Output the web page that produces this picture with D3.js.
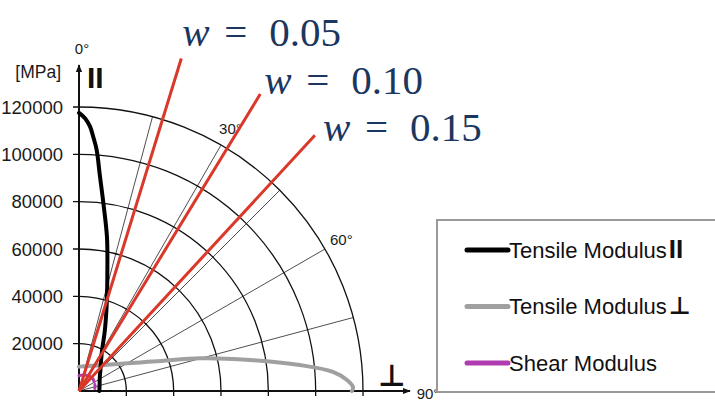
<!DOCTYPE html>
<html>
<head>
<meta charset="utf-8">
<script src="https://cdn.jsdelivr.net/npm/d3@7"></script>
<style>
  html, body { margin: 0; padding: 0; background: #fff; }
  svg { display: block; font-family: "Liberation Sans", Arial, sans-serif; }
</style>
</head>
<body>
<svg id="chart"></svg>
<script>
(() => {

  // modulus rings (MPa) and angle ticks (deg, 0 = fibre direction)
  const ringTicks = [20000, 40000, 60000, 80000, 100000, 120000];
  const spokeAngles = [15, 30, 45, 60, 75];
  const angleLabels = [0, 30, 60, 90];

  // Tensile modulus parallel (black)
  const parAngles = [0, 1.3, 2.4, 3.2, 4.2, 5.5, 7.4, 10.3, 13.2, 17.5, 23, 30.9, 45, 60, 75, 90];
  const parValues = [117500, 115200, 111800, 107600, 102100, 91700, 80000, 66100, 52500, 39000, 28000, 18700, 12800, 10100, 9000, 8600];

  // Tensile modulus perpendicular (grey)
  const perpAngles = [0, 20, 40, 55, 65, 70, 74.9, 79.7, 83.3, 85.7, 87.6, 89.2, 90];
  const perpValues = [10300, 11200, 14200, 19900, 28600, 37200, 53000, 73400, 94000, 107600, 113200, 115800, 115300];

  // Shear modulus (magenta), mostly hidden near the origin
  const shearAngles = [0, 15, 30, 45, 60, 75, 90];
  const shearValues = [6500, 7000, 7500, 7800, 7500, 7000, 6500];

  // red guide lines, one per fibre fraction
  const wLabels = ['0.05', '0.10', '0.15'];
  const wAngles = [17.1, 31.4, 42.7];
  const wReach = 147000;

  const legendNames = ['Tensile Modulus', 'Tensile Modulus', 'Shear Modulus'];
  const legendMarks = ['II', '\u22A5', ''];

  document.addEventListener("DOMContentLoaded", () => {
    drawChart();
  });

  function drawChart() {
    const svgWidth = 715;
    const svgHeight = 404;
    const origin = { x: 79, y: 391 };

    const svg = d3.select('#chart')
      .attr('width', svgWidth)
      .attr('height', svgHeight);

    const rScale = d3.scaleLinear()
      .domain([0, 120000])
      .range([0, 284]);

    const rad = (deg) => deg * Math.PI / 180;
    const px = (deg, v) => rScale(v) * Math.sin(rad(deg));
    const py = (deg, v) => -rScale(v) * Math.cos(rad(deg));

    const defs = svg.append('defs');
    defs.append('marker')
      .attr('id', 'arrow')
      .attr('viewBox', '0 0 10 10')
      .attr('refX', 9).attr('refY', 5)
      .attr('markerWidth', 8).attr('markerHeight', 8)
      .attr('markerUnits', 'userSpaceOnUse')
      .attr('orient', 'auto')
      .append('path')
      .attr('d', 'M0,1 L10,5 L0,9 Z')
      .attr('fill', '#111');

    const g = svg.append('g')
      .attr('transform', `translate(${origin.x}, ${origin.y})`);

    // spokes
    g.append('g').selectAll('line')
      .data(spokeAngles)
      .enter().append('line')
      .attr('x1', 0).attr('y1', 0)
      .attr('x2', d => px(d, 120000))
      .attr('y2', d => py(d, 120000))
      .attr('stroke', '#222')
      .attr('stroke-width', 0.8);

    // rings with small ticks on both axes
    g.append('g').selectAll('path')
      .data(ringTicks)
      .enter().append('path')
      .attr('d', d => {
        const p = d3.path();
        const r = rScale(d);
        p.moveTo(-6, -r);
        p.lineTo(0, -r);
        p.arc(0, 0, r, -Math.PI / 2, 0);
        p.lineTo(r, 5);
        return p.toString();
      })
      .attr('fill', 'none')
      .attr('stroke', '#111')
      .attr('stroke-width', 1.3);

    // tick labels
    g.append('g').selectAll('text')
      .data(ringTicks)
      .enter().append('text')
      .attr('x', -16)
      .attr('y', d => -rScale(d))
      .attr('dy', '0.36em')
      .attr('text-anchor', 'end')
      .attr('font-size', 18.5)
      .attr('fill', '#1a1a1a')
      .text(d => d);

    g.append('text')
      .attr('x', -18).attr('y', -313)
      .attr('text-anchor', 'end')
      .attr('font-size', 17.5)
      .attr('fill', '#1a1a1a')
      .text('[MPa]');

    // axes
    g.append('line')
      .attr('x1', 0).attr('y1', 0)
      .attr('x2', 0).attr('y2', -326)
      .attr('stroke', '#111').attr('stroke-width', 2)
      .attr('marker-end', 'url(#arrow)');
    g.append('line')
      .attr('x1', 0).attr('y1', 0)
      .attr('x2', 331).attr('y2', 0)
      .attr('stroke', '#111').attr('stroke-width', 2)
      .attr('marker-end', 'url(#arrow)');

    // angle labels
    const angPos = {
      0: [3, -337],
      30: [px(30, 128000), py(30, 128000) + 5],
      60: [px(60, 128000), py(60, 128000) + 5],
      90: [349, 8]
    };
    g.append('g').selectAll('text')
      .data(angleLabels)
      .enter().append('text')
      .attr('x', d => angPos[d][0])
      .attr('y', d => angPos[d][1])
      .attr('text-anchor', 'middle')
      .attr('font-size', 15)
      .attr('fill', '#1a1a1a')
      .text(d => d + '\u00B0');

    // direction symbols
    g.append('text')
      .attr('x', 8).attr('y', -303)
      .attr('font-size', 30).attr('font-weight', 'bold')
      .attr('fill', '#111')
      .text('II');
    g.append('text')
      .attr('x', 299).attr('y', -5)
      .attr('font-family', 'DejaVu Sans')
      .attr('font-size', 30).attr('font-weight', 'bold')
      .attr('fill', '#111')
      .text('\u22A5');

    const radial = d3.lineRadial()
      .angle(d => rad(d[0]))
      .radius(d => rScale(d[1]))
      .curve(d3.curveCatmullRom);

    const series = [
      { a: shearAngles, v: shearValues, color: '#b03cb0', width: 3, dash: '4,3' },
      { a: perpAngles, v: perpValues, color: '#a0a0a0', width: 4, dash: null },
      { a: parAngles, v: parValues, color: '#000', width: 4, dash: null }
    ];

    g.append('g').selectAll('path')
      .data(series)
      .enter().append('path')
      .attr('d', s => radial(s.a.map((a, i) => [a, s.v[i]])))
      .attr('fill', 'none')
      .attr('stroke', s => s.color)
      .attr('stroke-width', s => s.width)
      .attr('stroke-dasharray', s => s.dash)
      .attr('stroke-linecap', 'round');

    // red guide lines
    g.append('g').selectAll('line')
      .data(wAngles)
      .enter().append('line')
      .attr('x1', 0).attr('y1', 0)
      .attr('x2', d => px(d, wReach))
      .attr('y2', d => py(d, wReach))
      .attr('stroke', '#d9382a')
      .attr('stroke-width', 3);

    // label placement relative to each line's end
    const labelShift = [[1, -12], [4, 0], [8, 6]];
    const wText = svg.append('g').selectAll('text')
      .data(wLabels)
      .enter().append('text')
      .attr('font-family', '"Liberation Serif", "DejaVu Serif", serif')
      .attr('font-size', 41)
      .attr('fill', '#1b365f')
      .attr('transform', (d, i) => {
        const x = origin.x + px(wAngles[i], wReach) + labelShift[i][0];
        const y = origin.y + py(wAngles[i], wReach) + labelShift[i][1];
        return `translate(${x}, ${y})`;
      });
    wText.append('tspan')
      .attr('x', 0)
      .attr('font-style', 'italic')
      .text('w');
    wText.append('tspan')
      .attr('x', 42)
      .text('=');
    wText.append('tspan')
      .attr('x', 87)
      .text(d => d);

    // legend
    const legend = svg.append('g')
      .attr('transform', 'translate(437, 220)');
    legend.append('rect')
      .attr('x', 0).attr('y', 0)
      .attr('width', 300).attr('height', 172)
      .attr('fill', '#fff')
      .attr('stroke', '#999')
      .attr('stroke-width', 2);

    const legendColor = [series[2].color, series[1].color, series[0].color];
    const item = legend.selectAll('.item')
      .data(legendNames)
      .enter().append('g')
      .attr('class', 'item')
      .attr('transform', (d, i) => `translate(0, ${30 + i * 56.5})`);
    item.append('line')
      .attr('x1', 30).attr('x2', 71)
      .attr('stroke', (d, i) => legendColor[i])
      .attr('stroke-width', 5)
      .attr('stroke-linecap', 'round');
    const lt = item.append('text')
      .attr('x', 72)
      .attr('dy', '0.36em')
      .attr('font-size', 22)
      .attr('fill', '#111')
      .text(d => d);
    lt.append('tspan')
      .attr('dx', 2)
      .attr('font-weight', 'bold')
      .attr('font-family', (d, i) => i === 1 ? 'DejaVu Sans' : null)
      .attr('font-size', (d, i) => i === 1 ? 24 : 26)
      .text((d, i) => legendMarks[i]);
  }

})();
</script>
</body>
</html>
